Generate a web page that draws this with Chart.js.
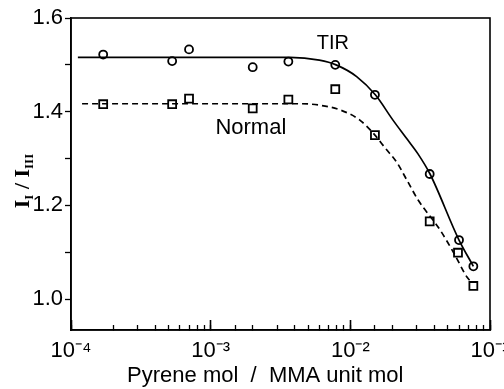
<!DOCTYPE html>
<html>
<head>
<meta charset="utf-8">
<script src="https://cdn.jsdelivr.net/npm/chart.js@4.4.1/dist/chart.umd.min.js"></script>
<style>
  body { margin: 0; background: #fff; }
  canvas { display: block; }
</style>
</head>
<body>
<canvas id="chart" width="504" height="389"></canvas>
<script>
// measured points
const xTIR = [1.7e-4, 5.3e-4, 7.0e-4, 2.0e-3, 3.6e-3, 7.8e-3, 1.5e-2, 3.7e-2, 6.0e-2, 7.6e-2];
const yTIR = [1.522, 1.508, 1.533, 1.495, 1.507, 1.5, 1.436, 1.267, 1.126, 1.07];
const xNormal = [1.7e-4, 5.3e-4, 7.0e-4, 2.0e-3, 3.6e-3, 7.8e-3, 1.5e-2, 3.7e-2, 5.9e-2, 7.6e-2];
const yNormal = [1.416, 1.416, 1.428, 1.407, 1.426, 1.448, 1.35, 1.166, 1.099, 1.028];

// hand-drawn fit curves
const tirFitX = [1.12e-4, 3.7e-3, 6.0e-3, 7.9e-3, 1.11e-2, 1.51e-2, 2.02e-2, 2.54e-2, 3.05e-2, 3.72e-2, 6.0e-2, 7.6e-2];
const tirFitY = [1.516, 1.516, 1.51, 1.5, 1.475, 1.436, 1.382, 1.342, 1.31, 1.267, 1.126, 1.07];
const normalFitX = [1.2e-4, 4.4e-3, 6.0e-3, 8.4e-3, 1.17e-2, 1.5e-2, 1.77e-2, 2.16e-2, 2.54e-2, 3.05e-2, 4.38e-2, 5.61e-2, 6.84e-2, 7.41e-2];
const normalFitY = [1.417, 1.417, 1.414, 1.404, 1.382, 1.35, 1.323, 1.291, 1.254, 1.212, 1.148, 1.094, 1.047, 1.035];

// axis ticks
const yTicks = [1.0, 1.1, 1.2, 1.3, 1.4, 1.5, 1.6];
const yLabelled = [1.0, 1.2, 1.4, 1.6];

// curve labels
const noteText = ["TIR", "Normal"];
const noteX = [7.5e-3, 1.94e-3];
const noteY = [1.546, 1.365];

const pts = (xs, ys) => xs.map((x, i) => ({ x: x, y: ys[i] }));

const sup = { "-": "\u207B", "0": "\u2070", "1": "\u00B9", "2": "\u00B2", "3": "\u00B3", "4": "\u2074",
  "5": "\u2075", "6": "\u2076", "7": "\u2077", "8": "\u2078", "9": "\u2079" };

function isDecade(v) {
  const l = Math.log10(v);
  return Math.abs(l - Math.round(l)) < 1e-9;
}

const frame = {
  id: "frame",
  afterDraw(chart) {
    const a = chart.chartArea;
    const ctx = chart.ctx;
    ctx.save();
    ctx.strokeStyle = "#000";
    ctx.lineWidth = 1.6;
    ctx.strokeRect(a.left, a.top, a.right - a.left, a.bottom - a.top);
    ctx.restore();
  },
};

const noteSizes = [20, 22];

const notes = {
  id: "notes",
  afterDatasetsDraw(chart) {
    const ctx = chart.ctx;
    const xs = chart.scales.x, ys = chart.scales.y;
    ctx.save();
    ctx.fillStyle = "#000";
    ctx.textAlign = "center";
    ctx.textBaseline = "middle";
    noteText.forEach((t, i) => {
      ctx.font = noteSizes[i] + "px 'Liberation Sans'";
      ctx.fillText(t, xs.getPixelForValue(noteX[i]), ys.getPixelForValue(noteY[i]));
    });

    // y title: I_I / I_III
    ctx.translate(22, 181);
    ctx.rotate(-Math.PI / 2);
    const big = "bold 22px 'Liberation Serif'";
    const small = "bold 13px 'Liberation Serif'";
    const parts = [["I", big, 0], ["I", small, 4], [" / ", big, 0], ["I", big, 0], ["III", small, 4]];
    let w = 0;
    parts.forEach((p) => { ctx.font = p[1]; w += ctx.measureText(p[0]).width; });
    let x = -w / 2;
    ctx.textAlign = "left";
    ctx.textBaseline = "alphabetic";
    parts.forEach((p) => {
      ctx.font = p[1];
      ctx.fillText(p[0], x, 7 + p[2]);
      x += ctx.measureText(p[0]).width;
    });
    ctx.restore();
  },
};

const circle = { pointStyle: "circle", pointRadius: 4, pointBorderWidth: 1.8, pointBackgroundColor: "#fff", pointBorderColor: "#000" };
const square = { pointStyle: "rect", pointRadius: 5.6, pointBorderWidth: 1.8, pointBackgroundColor: "#fff", pointBorderColor: "#000" };

new Chart(document.getElementById("chart"), {
  type: "scatter",
  data: {
    datasets: [
      { label: "TIR fit", data: pts(tirFitX, tirFitY), showLine: true, pointRadius: 0,
        borderColor: "#000", borderWidth: 1.7, cubicInterpolationMode: "monotone" },
      { label: "Normal fit", data: pts(normalFitX, normalFitY), showLine: true, pointRadius: 0,
        borderColor: "#000", borderWidth: 1.7, borderDash: [6, 4], cubicInterpolationMode: "monotone" },
      Object.assign({ label: "TIR", data: pts(xTIR, yTIR) }, circle),
      Object.assign({ label: "Normal", data: pts(xNormal, yNormal) }, square),
    ],
  },
  options: {
    responsive: false,
    animation: false,
    layout: { padding: { top: 18, right: 14, left: 0, bottom: 0 } },
    plugins: { legend: { display: false }, tooltip: { enabled: false } },
    scales: {
      xMajor: {
        type: "logarithmic",
        position: "bottom",
        weight: -1,
        min: 1e-4,
        max: 1e-1,
        afterBuildTicks(scale) { scale.ticks = scale.ticks.filter((t) => isDecade(t.value)); },
        afterFit(scale) { scale.height = 0; scale.paddingLeft = 0; scale.paddingRight = 0; },
        ticks: { display: false },
        border: { display: false },
        grid: { drawOnChartArea: false, tickLength: -10, tickColor: "#000", tickWidth: 1.6 },
      },
      x: {
        type: "logarithmic",
        position: "bottom",
        min: 1e-4,
        max: 1e-1,
        afterFit(scale) { scale.height = 59; scale.paddingLeft = 0; scale.paddingRight = 0; },
        border: { display: true, color: "#000", width: 1.6 },
        grid: { drawOnChartArea: false, tickLength: -5, tickColor: "#000", tickWidth: 1.3 },
        ticks: {
          autoSkip: false,
          maxRotation: 0,
          padding: 13,
          color: "#000",
          font: { family: "'Liberation Sans'", size: 22 },
          callback: (v) => {
            if (!isDecade(v)) return "";
            const e = String(Math.round(Math.log10(v)));
            return "10" + e.split("").map((c) => sup[c]).join("");
          },
        },
        title: {
          display: true,
          text: "Pyrene mol  /  MMA unit mol     ",
          color: "#000",
          font: { family: "'Liberation Sans'", size: 22 },
          padding: { top: 0, bottom: 0 },
        },
      },
      y: {
        type: "linear",
        min: 0.934,
        max: 1.6,
        afterBuildTicks(scale) { scale.ticks = yTicks.map((v) => ({ value: v })); },
        afterFit(scale) { scale.width = 71; },
        border: { display: true, color: "#000", width: 1.6 },
        grid: { drawOnChartArea: false, tickLength: 6, tickColor: "#000", tickWidth: 1.3 },
        ticks: {
          padding: 2,
          color: "#000",
          font: { family: "'Liberation Sans'", size: 22 },
          callback: (v) => (yLabelled.some((l) => Math.abs(l - v) < 1e-6) ? v.toFixed(1) : ""),
        },
      },
    },
  },
  plugins: [frame, notes],
});
</script>
</body>
</html>
